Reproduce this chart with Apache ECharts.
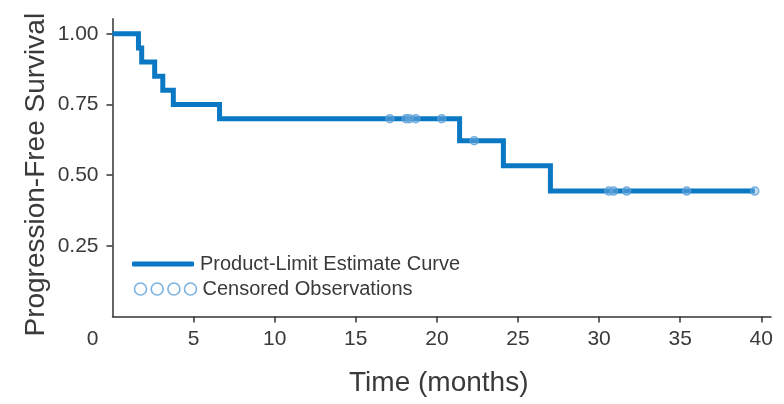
<!DOCTYPE html>
<html>
<head>
<meta charset="utf-8">
<script src="https://cdn.jsdelivr.net/npm/echarts@6/dist/echarts.min.js"></script>
<style>html,body{margin:0;padding:0;background:#fff}#c{width:784px;height:404px}</style>
</head>
<body>
<div id="c"></div>
<script>
// Kaplan-Meier step curve (time in months, survival after the step)
var stepTimes = [0, 1.6, 1.8, 2.6, 3.1, 3.75, 6.6, 21.4, 24.1, 27.0, 39.6];
var stepSurvival = [1.00, 0.95, 0.90, 0.85, 0.80, 0.75, 0.70, 0.622, 0.533, 0.444, 0.444];
// Censored observations
var censorTimes = [17.1, 18.1, 18.3, 18.7, 20.3, 22.3, 30.6, 30.9, 31.7, 35.4, 39.6];
var censorSurvival = [0.70, 0.70, 0.70, 0.70, 0.70, 0.622, 0.444, 0.444, 0.444, 0.444, 0.444];
// Ticks
var xTickValues = [0, 5, 10, 15, 20, 25, 30, 35, 40];
var yTickValues = [0.25, 0.50, 0.75, 1.00];
var seriesNames = ['Product-Limit Estimate Curve', 'Censored Observations'];
var xTitle = 'Time (months)';
var yTitle = 'Progression-Free Survival';

var FONT = '"Liberation Sans", Arial, sans-serif';
var TXT = '#3a3a3a';
var AX = '#333333';
var BLUE = '#0a78c3';
var LBLUE = '#5a9fd8';

var curve = stepTimes.map(function (t, i) { return [t, stepSurvival[i]]; });
var censored = censorTimes.map(function (t, i) { return [t, censorSurvival[i]]; });

var chart = echarts.init(document.getElementById('c'), null, {renderer: 'canvas'});
chart.setOption({
  animation: false,
  backgroundColor: '#ffffff',
  grid: {left: 112.5, right: 13, top: 18.8, bottom: 87.4},
  xAxis: {
    type: 'value', min: 0, max: 40.6, interval: 5,
    name: xTitle, nameLocation: 'middle', nameGap: 53, nameMoveOverlap: false,
    nameTextStyle: {fontFamily: FONT, fontSize: 28, color: TXT, padding: [0, 6, 0, 0]},
    axisLine: {show: true, onZero: false, lineStyle: {color: AX, width: 1.5}},
    axisTick: {show: true, inside: false, length: 6, lineStyle: {color: AX, width: 1.5},
               customValues: xTickValues.slice(1)},
    axisLabel: {show: true, margin: 12, fontFamily: FONT, fontSize: 21, color: TXT,
                customValues: xTickValues,
                formatter: function (v) { return v === 0 ? '{z|0}' : String(v); },
                rich: {z: {fontFamily: FONT, fontSize: 21, color: TXT, padding: [0, 40, 0, 0]}}},
    splitLine: {show: false}
  },
  yAxis: {
    type: 'value', min: 0, max: 1.053, interval: 0.25,
    name: yTitle, nameLocation: 'middle', nameGap: 62, nameMoveOverlap: false,
    nameTextStyle: {fontFamily: FONT, fontSize: 28, color: TXT, padding: [0, 14, 0, 0]},
    axisLine: {show: true, onZero: false, lineStyle: {color: AX, width: 1.5}},
    axisTick: {show: true, inside: false, length: 6, lineStyle: {color: AX, width: 1.5},
               customValues: yTickValues},
    axisLabel: {show: true, margin: 14, fontFamily: FONT, fontSize: 21, color: TXT,
                customValues: yTickValues,
                formatter: function (v) { return v.toFixed(2); }},
    splitLine: {show: false}
  },
  legend: [{
    data: [{name: seriesNames[0], icon: 'roundRect'}],
    left: 127, top: 249, orient: 'vertical',
    itemWidth: 62, itemHeight: 5, itemGap: 0,
    textStyle: {fontFamily: FONT, fontSize: 20, color: TXT, padding: [0, 0, 0, 1]}
  }, {
    data: [{name: seriesNames[1],
            icon: 'path://M0,6a6,6 0 1,0 12,0a6,6 0 1,0 -12,0M16.7,6a6,6 0 1,0 12,0a6,6 0 1,0 -12,0M33.4,6a6,6 0 1,0 12,0a6,6 0 1,0 -12,0M50,6a6,6 0 1,0 12,0a6,6 0 1,0 -12,0',
            itemStyle: {color: 'none', borderColor: LBLUE, borderWidth: 1.6}}],
    left: 127, top: 274, orient: 'vertical',
    itemWidth: 62, itemHeight: 12, itemGap: 0,
    textStyle: {fontFamily: FONT, fontSize: 20, color: TXT, padding: [0, 0, 0, 1]}
  }],
  series: [{
    name: seriesNames[0], type: 'line', step: 'end', data: curve,
    showSymbol: false, symbol: 'none', clip: false,
    lineStyle: {color: BLUE, width: 5, join: 'miter', cap: 'butt'},
    itemStyle: {color: BLUE}
  }, {
    name: seriesNames[1], type: 'scatter', data: censored,
    symbol: 'circle', symbolSize: 8, clip: false, z: 3,
    itemStyle: {color: 'rgba(120,175,225,0.55)', borderColor: LBLUE, borderWidth: 1.5}
  }]
});
</script>
</body>
</html>
